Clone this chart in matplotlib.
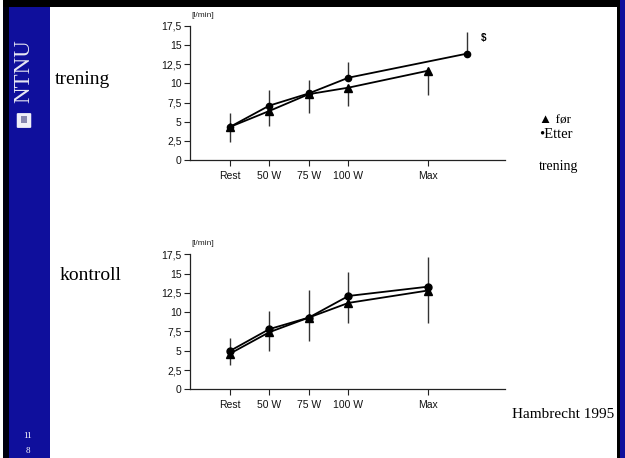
import matplotlib
matplotlib.use("Agg")
import matplotlib.pyplot as plt
from matplotlib.patches import Rectangle, FancyBboxPatch
from matplotlib.ticker import FuncFormatter

W, H = 625, 458

# Exercise stages on the x axis
categories = ["Rest", "50 W", "75 W", "100 W", "Max"]
cat_pos = [1, 2, 3, 4, 6]

# Training group (l/min)
tr_for = [4.3, 6.4, 8.6, 9.45, 11.65]
tr_for_err_down = [2.0, 1.9, 2.4, 2.35, 3.2]
tr_etter = [4.3, 7.1, 8.7, 10.75, 13.9]
tr_etter_x = [1, 2, 3, 4, 7]
tr_etter_err_up = [1.9, 2.0, 1.75, 2.05, 2.85]

# Control group (l/min)
ko_for = [4.6, 7.4, 9.3, 11.2, 12.8]
ko_for_err_down = [1.4, 2.4, 3.0, 2.65, 4.2]
ko_etter = [4.95, 7.8, 9.3, 12.1, 13.3]
ko_etter_err_up = [1.7, 2.3, 3.6, 3.05, 3.8]

yticks = [0, 2.5, 5, 7.5, 10, 12.5, 15, 17.5]

BLUE = "#0f0f9c"

fig = plt.figure(figsize=(W / 100, H / 100), dpi=100)
fig.patch.set_facecolor("white")


def px_rect(x0, y0, x1, y1, color, z=0):
    fig.patches.append(Rectangle((x0 / W, 1 - y1 / H), (x1 - x0) / W, (y1 - y0) / H,
                                 transform=fig.transFigure, facecolor=color,
                                 edgecolor="none", zorder=z))


# slide frame
px_rect(8, 0, 50, H, BLUE)
px_rect(3, 0, 9, H, "#000010")
px_rect(3, 0, 620, 7, "#000000")
px_rect(617, 0, 620, H, "#000000")
px_rect(620, 0, W, H, BLUE)

fig.text(23.5 / W, 1 - 71 / H, "NTNU", rotation=90, color="#e8e8f4",
         family="Liberation Serif", fontsize=16.5, ha="center", va="center")
fig.patches.append(FancyBboxPatch((18 / W, 1 - 127 / H), 12 / W, 13 / H,
                                  boxstyle="round,pad=0.002", transform=fig.transFigure,
                                  facecolor="#f0f0f8", edgecolor="none"))
px_rect(21, 116, 27, 123, "#8888b0", z=3)
fig.text(27.5 / W, 1 - 436 / H, "11", color="white", family="Liberation Serif",
         fontsize=6.5, ha="center", va="center")
fig.text(27.5 / W, 1 - 451 / H, "8", color="white", family="Liberation Serif",
         fontsize=6.5, ha="center", va="center")


def comma_fmt(v, _):
    s = f"{v:g}"
    return s.replace(".", ",")


def make_axes(bottom_px, top_px, left_px=190, right_px=505, xmax=7.95):
    ax = fig.add_axes([left_px / W, 1 - bottom_px / H, (right_px - left_px) / W,
                       (bottom_px - top_px) / H])
    ax.set_facecolor("none")
    ax.set_xlim(0, xmax)
    ax.set_ylim(0, 17.5)
    for s in ("top", "right"):
        ax.spines[s].set_visible(False)
    for s in ("left", "bottom"):
        ax.spines[s].set_linewidth(0.9)
        ax.spines[s].set_color("#222222")
    ax.set_yticks(yticks)
    ax.yaxis.set_major_formatter(FuncFormatter(comma_fmt))
    ax.set_xticks(cat_pos)
    ax.set_xticklabels(categories)
    ax.tick_params(axis="both", labelsize=7.5, length=4, width=0.8, colors="#222222",
                   labelcolor="#111111")
    ax.tick_params(axis="x", pad=4)
    ax.tick_params(axis="y", pad=2)
    for lab in ax.get_xticklabels() + ax.get_yticklabels():
        lab.set_family("Liberation Sans")
    ax.text(0.03, 17.5 + 0.9, "[l/min]", fontsize=6, family="Liberation Sans",
            ha="left", va="bottom", color="#222222", clip_on=False)
    return ax


def draw_series(ax, x, y, err, up, marker, ms):
    if up:
        yerr = [[0] * len(err), err]
    else:
        yerr = [err, [0] * len(err)]
    ax.errorbar(x, y, yerr=yerr, fmt="none", ecolor="#333333", elinewidth=1.0,
                capsize=0, zorder=2)
    ax.plot(x, y, color="black", lw=1.3, marker=marker, ms=ms,
            markerfacecolor="black", markeredgecolor="black", zorder=3)


# training group
ax1 = make_axes(160, 26)
draw_series(ax1, cat_pos, tr_for, tr_for_err_down, False, "^", 6)
draw_series(ax1, tr_etter_x, tr_etter, tr_etter_err_up, True, "o", 4.5)
ax1.text(7.4, 15.9, "$", fontsize=7, fontweight="bold", family="Liberation Sans",
         ha="center", va="center")

# control group
ax2 = make_axes(389.3, 254.3)
draw_series(ax2, cat_pos, ko_for, ko_for_err_down, False, "^", 6)
draw_series(ax2, cat_pos, ko_etter, ko_etter_err_up, True, "o", 5)

serif = "Liberation Serif"
fig.text(55 / W, 1 - 80 / H, "trening", family=serif, fontsize=14, va="center")
fig.text(60 / W, 1 - 275 / H, "kontroll", family=serif, fontsize=14, va="center")
fig.text(539 / W, 1 - 121 / H, "\u25b2 før", family=serif, fontsize=9.5, va="center")
fig.text(539 / W, 1 - 134 / H, "\u2022Etter", family=serif, fontsize=10.5, va="center")
fig.text(539 / W, 1 - 166 / H, "trening", family=serif, fontsize=10, va="center")
fig.text(512 / W, 1 - 414 / H, "Hambrecht 1995", family=serif, fontsize=11, va="center")

fig.savefig("out.png", dpi=100)
